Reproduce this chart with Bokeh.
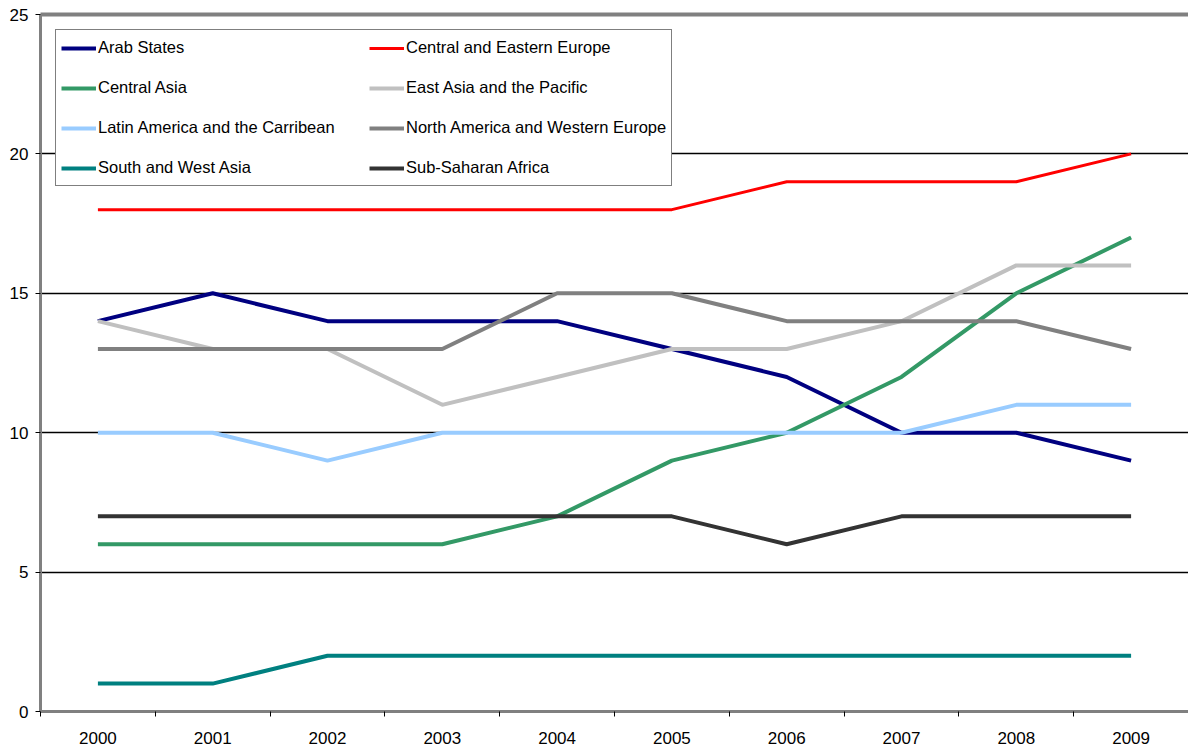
from bokeh.plotting import figure
from bokeh.models import Range1d, FixedTicker, Legend, LegendItem, LinearAxis
from bokeh.embed import file_html
from bokeh.resources import INLINE

years = ["2000", "2001", "2002", "2003", "2004", "2005", "2006", "2007", "2008", "2009"]

arab_states = [14, 15, 14, 14, 14, 13, 12, 10, 10, 9]
central_eastern_europe = [18, 18, 18, 18, 18, 18, 19, 19, 19, 20]
central_asia = [6, 6, 6, 6, 7, 9, 10, 12, 15, 17]
east_asia_pacific = [14, 13, 13, 11, 12, 13, 13, 14, 16, 16]
latin_america = [10, 10, 9, 10, 10, 10, 10, 10, 11, 11]
north_america_we = [13, 13, 13, 13, 15, 15, 14, 14, 14, 13]
south_west_asia = [1, 1, 2, 2, 2, 2, 2, 2, 2, 2]
sub_saharan_africa = [7, 7, 7, 7, 7, 7, 6, 7, 7, 7]

series = [
    ("Arab States", arab_states, "#000080", 4),
    ("Central and Eastern Europe", central_eastern_europe, "#FF0000", 3),
    ("Central Asia", central_asia, "#339966", 4),
    ("East Asia and the Pacific", east_asia_pacific, "#C0C0C0", 4),
    ("Latin America and the Carribean", latin_america, "#99CCFF", 4),
    ("North America and Western Europe", north_america_we, "#808080", 4),
    ("South and West Asia", south_west_asia, "#008080", 4),
    ("Sub-Saharan Africa", sub_saharan_africa, "#333333", 4),
]

FONT = "Liberation Sans"
n = len(years)
xs = [i + 0.5 for i in range(n)]

p = figure(width=1188, height=750, output_backend="svg", toolbar_location=None,
           x_range=Range1d(0, n), y_range=Range1d(0, 25),
           min_border_left=40, min_border_right=0, min_border_top=14, min_border_bottom=39)
p.outline_line_color = None
p.background_fill_color = "white"
p.border_fill_color = "white"

# x axis: labels at category centers, tick marks between categories
p.xaxis.ticker = FixedTicker(ticks=xs, minor_ticks=list(range(n + 1)))
p.xaxis.major_label_overrides = {x: y for x, y in zip(xs, years)}
p.xaxis.major_tick_line_color = None
p.xaxis.minor_tick_line_color = "black"
p.xaxis.minor_tick_out = 5
p.xaxis.minor_tick_in = 0
p.xaxis.axis_line_color = "#808080"
p.xaxis.axis_line_width = 3
p.xaxis.major_label_text_font = FONT
p.xaxis.major_label_text_font_size = "17px"
p.xaxis.major_label_text_color = "black"
p.xaxis.major_label_standoff = 14

p.yaxis.ticker = FixedTicker(ticks=[0, 5, 10, 15, 20, 25])
p.yaxis.major_tick_line_color = "black"
p.yaxis.major_tick_out = 5
p.yaxis.major_tick_in = 0
p.yaxis.minor_tick_line_color = None
p.yaxis.axis_line_color = "#808080"
p.yaxis.axis_line_width = 3
p.yaxis.major_label_text_font = FONT
p.yaxis.major_label_text_font_size = "17px"
p.yaxis.major_label_text_color = "black"
p.yaxis.major_label_standoff = 7

# top border of the plot area
top = LinearAxis(ticker=FixedTicker(ticks=[]), axis_line_color="#808080", axis_line_width=4,
                 major_tick_line_color=None, minor_tick_line_color=None,
                 major_label_text_font_size="0px")
p.add_layout(top, "above")

p.xgrid.visible = False
p.ygrid.ticker = FixedTicker(ticks=[5, 10, 15, 20])
p.ygrid.grid_line_color = "black"
p.ygrid.grid_line_width = 1.5

renderers = {}
for name, vals, color, lw in series:
    r = p.line(xs, vals, line_color=color, line_width=lw)
    renderers[name] = r

order = ["Arab States", "Central Asia", "Latin America and the Carribean", "South and West Asia",
         "Central and Eastern Europe", "East Asia and the Pacific",
         "North America and Western Europe", "Sub-Saharan Africa"]
items = [LegendItem(label=nm, renderers=[renderers[nm]]) for nm in order]
legend = Legend(items=items, ncols=2, location="top_left")
legend.label_text_font = FONT
legend.label_text_font_size = "16.5px"
legend.label_text_color = "black"
legend.glyph_width = 35
legend.glyph_height = 20
legend.label_height = 25
legend.label_width = 256
legend.label_standoff = 2
legend.spacing = 15
legend.padding = 5
legend.margin = 15
legend.border_line_color = "black"
legend.border_line_width = 1
legend.background_fill_color = "white"
legend.background_fill_alpha = 1
p.add_layout(legend)

open("out.html", "w").write(file_html(p, INLINE))
